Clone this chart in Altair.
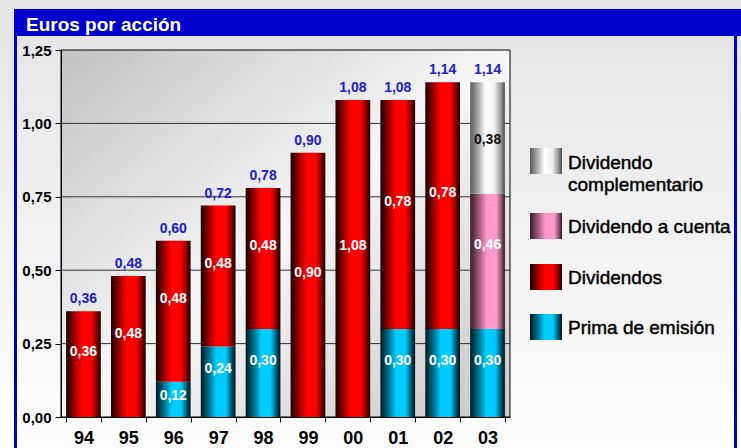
import altair as alt
import pandas as pd

# ---------------- data ----------------
years = ["94", "95", "96", "97", "98", "99", "00", "01", "02", "03"]
# segment heights as drawn in the picture
prima = [0, 0, 0.12, 0.24, 0.30, 0, 0, 0.30, 0.30, 0.30]
dividendos = [0.36, 0.48, 0.48, 0.48, 0.48, 0.90, 1.08, 0.78, 0.84, 0]
div_cuenta = [0, 0, 0, 0, 0, 0, 0, 0, 0, 0.46]
div_comp = [0, 0, 0, 0, 0, 0, 0, 0, 0, 0.38]
# value labels as printed in the picture
prima_labels = ["", "", "0,12", "0,24", "0,30", "", "", "0,30", "0,30", "0,30"]
dividendos_labels = ["0,36", "0,48", "0,48", "0,48", "0,48", "0,90", "1,08", "0,78", "0,78", ""]
div_cuenta_labels = ["", "", "", "", "", "", "", "", "", "0,46"]
div_comp_labels = ["", "", "", "", "", "", "", "", "", "0,38"]
totals_labels = ["0,36", "0,48", "0,60", "0,72", "0,78", "0,90", "1,08", "1,08", "1,14", "1,14"]

series_names = ["Prima de emisión", "Dividendos", "Dividendo a cuenta", "Dividendo complementario"]
legend_labels = ["Dividendo\ncomplementario", "Dividendo a cuenta", "Dividendos", "Prima de emisión"]
y_ticks = [0, 0.25, 0.5, 0.75, 1.0, 1.25]
title_text = "Euros por acción"

series_values = [prima, dividendos, div_cuenta, div_comp]
series_labels = [prima_labels, dividendos_labels, div_cuenta_labels, div_comp_labels]

rows, tot_rows = [], []
for i, yr in enumerate(years):
    cum = 0.0
    for name, vals, labs in zip(series_names, series_values, series_labels):
        v = vals[i]
        if v > 0:
            rows.append({"year": yr, "series": name, "start": cum, "end": cum + v, "label": labs[i]})
            cum += v
    tot_rows.append({"year": yr, "total": round(cum, 2), "label": totals_labels[i]})
seg = pd.DataFrame(rows)
tot = pd.DataFrame(tot_rows)
grid_df = pd.DataFrame({"t": [t for t in y_ticks if 0 < t < 1.25]})
one = pd.DataFrame({"k": [0]})

# ---------------- styles ----------------
FONT = "Liberation Sans"
W, H = 449, 367


def hgrad(stops):
    return alt.Gradient(gradient="linear", x1=0, x2=1, y1=0, y2=0,
                        stops=[alt.GradientStop(offset=o, color=c) for o, c in stops])


grads = {
    "Prima de emisión": hgrad([(0, "#001820"), (0.28, "#00809f"), (0.45, "#00ccff"),
                               (0.72, "#00ccff"), (0.88, "#005a75"), (1, "#001018")]),
    "Dividendos": hgrad([(0, "#160000"), (0.28, "#b00000"), (0.45, "#ff0000"),
                         (0.72, "#ff0000"), (0.88, "#8a0000"), (1, "#100000")]),
    "Dividendo a cuenta": hgrad([(0, "#3a1828"), (0.28, "#a86080"), (0.48, "#ff99cc"),
                                 (0.75, "#ff99cc"), (0.9, "#8a5570"), (1, "#301420")]),
    "Dividendo complementario": hgrad([(0, "#5a5a5a"), (0.25, "#b0b0b0"), (0.45, "#ffffff"),
                                       (0.7, "#f0f0f0"), (0.88, "#9a9a9a"), (1, "#4a4a4a")]),
}
# label colour and upward shift (in value units) from the segment centre
label_style = {
    "Prima de emisión": ("white", 0.042),
    "Dividendos": ("white", 0.042),
    "Dividendo a cuenta": ("white", 0.055),
    "Dividendo complementario": ("#111111", -0.008),
}

yscale = alt.Scale(domain=[0, 1.25], nice=False, zero=True)
xscale = alt.Scale(paddingInner=0.227, paddingOuter=0.1135)
xaxis = alt.Axis(title=None, labelAngle=0, labelFont=FONT, labelFontSize=18,
                 labelFontWeight="bold", labelColor="black", labelPadding=7,
                 tickBand="extent", tickSize=5, tickColor="black", domainColor="black",
                 grid=False, zindex=1)
yaxis = alt.Axis(title=None, values=y_ticks, labelExpr="replace(format(datum.value, '.2f'), '.', ',')",
                 labelFont=FONT, labelFontSize=15, labelFontWeight="bold", labelColor="black",
                 labelPadding=4, tickSize=6, tickColor="black", domainColor="black",
                 grid=False, zindex=1)
X = alt.X("year:N", sort=years, scale=xscale, axis=xaxis)


def deco_rect(x, x2, y, y2, **mark):
    return alt.Chart(one).mark_rect(**mark).encode(
        x=alt.value(x), x2=alt.value(x2), y=alt.value(y), y2=alt.value(y2))


def deco_text(text, x, y, **mark):
    return alt.Chart(one).mark_text(text=text, **mark).encode(x=alt.value(x), y=alt.value(y))


layers = []
# whole background
layers.append(deco_rect(-61, 680, -50, 398, fill=alt.Gradient(
    gradient="linear", x1=0, x2=0, y1=0, y2=1,
    stops=[alt.GradientStop(offset=0, color="#e4e4e4"),
           alt.GradientStop(offset=0.45, color="#efefef"),
           alt.GradientStop(offset=1, color="#fdfdfd")])))
# blue title bar and frame
layers.append(deco_rect(-47, 680, -41, -14, fill="#0000cc"))
layers.append(deco_rect(-47, -44, -14, 398, fill="#0000cc"))
layers.append(deco_rect(673, 676, -14, 398, fill="#0000cc"))
layers.append(deco_text(title_text, -35, -19, align="left", baseline="alphabetic",
                        font=FONT, fontSize=19, fontWeight="bold", color="white"))
# plot background
layers.append(deco_rect(0, W, 0, H, stroke="black", strokeWidth=1, fill=alt.Gradient(
    gradient="linear", x1=0, x2=1, y1=0, y2=1,
    stops=[alt.GradientStop(offset=0, color="#c2c2c2"),
           alt.GradientStop(offset=0.5, color="#f6f6f6"),
           alt.GradientStop(offset=1, color="#c8c8c8")])))
# grid lines
layers.append(alt.Chart(grid_df).mark_rule(color="#333333", strokeWidth=1).encode(
    y=alt.Y("t:Q", scale=yscale, axis=yaxis)))
# bars
for name in series_names:
    layers.append(alt.Chart(seg).transform_filter(alt.datum.series == name).mark_bar(
        fill=grads[name]).encode(
        x=X, y=alt.Y("start:Q", scale=yscale, axis=yaxis), y2="end:Q"))
# segment labels
for name in series_names:
    col, off = label_style[name]
    layers.append(alt.Chart(seg).transform_filter(alt.datum.series == name).transform_calculate(
        ly=f"(datum.start + datum.end) / 2 + min({off}, (datum.end - datum.start) / 2 - 0.05)"
    ).mark_text(
        font=FONT, fontSize=14, fontWeight="bold", color=col, baseline="middle").encode(
        x=X, y=alt.Y("ly:Q", scale=yscale, axis=yaxis), text="label:N"))
# totals
layers.append(alt.Chart(tot).mark_text(
    font=FONT, fontSize=14, fontWeight="bold", color="#2020cc", baseline="middle", dy=-12).encode(
    x=X, y=alt.Y("total:Q", scale=yscale, axis=yaxis), text="label:N"))

# legend (decoration)
legend_order = ["Dividendo complementario", "Dividendo a cuenta", "Dividendos", "Prima de emisión"]
legend_centers = [111, 176, 227, 277]
for name, lab, cy in zip(legend_order, legend_labels, legend_centers):
    layers.append(deco_rect(469, 501, cy - 13, cy + 13, fill=grads[name]))
    ty = cy + 2 if "\n" in lab else cy + 1
    layers.append(deco_text(lab, 507, ty, align="left", baseline="middle", lineBreak="\n",
                            lineHeight=22, font=FONT, fontSize=19, color="black",
                            stroke="black", strokeWidth=0.45))

chart = alt.layer(*layers).properties(
    width=W, height=H,
    padding={"left": 61, "top": 50, "right": 231, "bottom": 31},
    autosize=alt.AutoSizeParams(type="none"),
    background="#e8e8e8",
).configure_view(stroke="transparent")

chart.save("out.html", embed_options={"renderer": "svg", "actions": False})
